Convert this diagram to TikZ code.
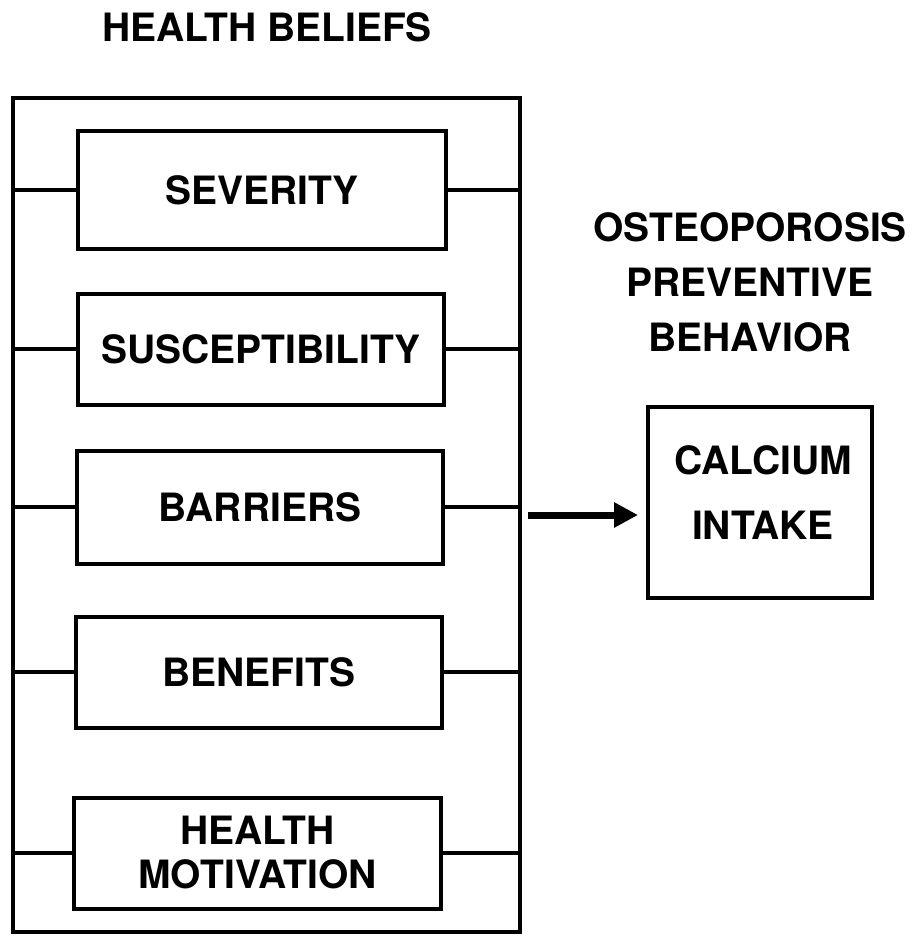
\documentclass[tikz,border=0pt]{standalone}
\usepackage{fontspec}
\setmainfont{TeX Gyre Heros}
\usetikzlibrary{arrows.meta}
\begin{document}
\begin{tikzpicture}[x=1pt,y=-1pt,
  lbl/.style={font=\fontsize{39}{55}\selectfont\bfseries, align=center, inner sep=0pt},
  box/.style={draw, line width=4pt, inner sep=0pt, font=\fontsize{39}{44}\selectfont\bfseries, align=center},
  link/.style={line width=4pt},
  bigarrow/.style={line width=7pt, -{Triangle[length=24pt,width=24pt]}}]
\useasboundingbox (0,0) rectangle (916,937);
\node[lbl] (hb) at (267,27) {HEALTH BELIEFS};
\node[draw, line width=4pt, minimum width=507, minimum height=834, inner sep=0pt] (outer) at (266.5,515) {};
\node[box, minimum width=368, minimum height=118] (sev) at (262,190) {SEVERITY};
\node[box, minimum width=366, minimum height=111] (sus) at (261,349) {SUSCEPTIBILITY};
\node[box, minimum width=366, minimum height=113] (bar) at (260,507) {BARRIERS};
\node[box, minimum width=366, minimum height=111] (ben) at (259,672) {BENEFITS};
\node[box, minimum width=367, minimum height=111] (hm) at (257.5,853) {HEALTH\\MOTIVATION};
\node[lbl] (opb) at (750,282) {OSTEOPOROSIS\\PREVENTIVE\\BEHAVIOR};
\node[draw, line width=4pt, minimum width=224, minimum height=191, inner sep=0pt] (cal) at (760,502.5) {};
\node[lbl, font=\fontsize{39}{65}\selectfont\bfseries] (calt) at (763,493) {CALCIUM\\INTAKE};
\foreach \b in {sev,sus,bar,ben,hm}{
  \draw[link] (\b.west) -- (\b.west -| outer.west);
  \draw[link] (\b.east) -- (\b.east -| outer.east);
}
\draw[bigarrow] ([xshift=6pt]outer.east) -- ([xshift=-8pt]outer.east -| cal.west);
\end{tikzpicture}
\end{document}
